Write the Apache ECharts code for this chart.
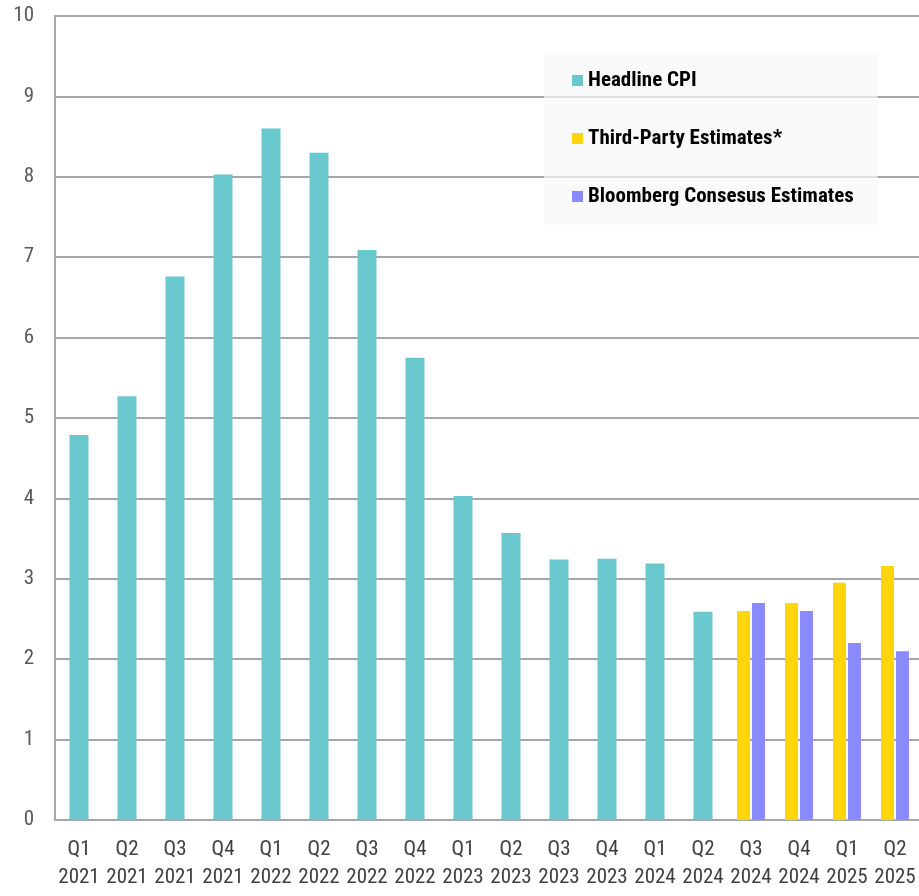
<!DOCTYPE html>
<html>
<head>
<meta charset="utf-8">
<title>Headline CPI and Estimates</title>
<script src="https://cdn.jsdelivr.net/npm/echarts@6/dist/echarts.min.js"></script>
<style>
  html, body { margin: 0; padding: 0; background: #ffffff; }
  #chart { width: 919px; height: 896px; }
</style>
</head>
<body>
<div id="chart"></div>
<script>
// Quarter labels (two lines: quarter, year)
const quarters = [
  'Q1\n2021', 'Q2\n2021', 'Q3\n2021', 'Q4\n2021',
  'Q1\n2022', 'Q2\n2022', 'Q3\n2022', 'Q4\n2022',
  'Q1\n2023', 'Q2\n2023', 'Q3\n2023', 'Q4\n2023',
  'Q1\n2024', 'Q2\n2024', 'Q3\n2024', 'Q4\n2024',
  'Q1\n2025', 'Q2\n2025'
];

// Reported year-over-year headline CPI (%)
const headlineCPI = [
  4.79, 5.27, 6.76, 8.03,
  8.60, 8.30, 7.09, 5.75,
  4.03, 3.57, 3.24, 3.25,
  3.19, 2.59, null, null,
  null, null
];

// Forecasts for the coming quarters
const thirdPartyEstimates = [
  null, null, null, null, null, null, null, null, null,
  null, null, null, null, null, 2.60, 2.70, 2.95, 3.16
];
const bloombergEstimates = [
  null, null, null, null, null, null, null, null, null,
  null, null, null, null, null, 2.70, 2.60, 2.20, 2.10
];

const yTicks = { min: 0, max: 10, step: 1 };

const narrow = "'Roboto Condensed', 'Liberation Sans', sans-serif";
const gridGray = '#A6A6A6';

const chart = echarts.init(document.getElementById('chart'), null, { renderer: 'canvas' });

chart.setOption({
  animation: false,
  backgroundColor: '#ffffff',
  grid: { left: 55, right: -2, top: 16, bottom: 76, containLabel: false },
  legend: {
    orient: 'vertical',
    left: 544,
    top: 53,
    padding: [17, 24, 18, 28],
    itemGap: 37,
    itemWidth: 11,
    itemHeight: 11,
    icon: 'rect',
    backgroundColor: 'rgba(248,248,248,0.7)',
    textStyle: {
      fontFamily: narrow,
      fontWeight: 'bold',
      fontSize: 21,
      color: '#000000',
      padding: [0, 0, 0, 0]
    },
    data: ['Headline CPI', 'Third-Party Estimates*', 'Bloomberg Consesus Estimates']
  },
  xAxis: [
    {
      type: 'category',
      data: quarters,
      axisLine: { show: true, lineStyle: { color: gridGray, width: 2 } },
      axisTick: { show: false },
      axisLabel: {
        interval: 0,
        margin: 16,
        fontFamily: narrow,
        fontSize: 21,
        lineHeight: 28,
        color: '#404040'
      }
    },
    {
      type: 'category',
      data: quarters,
      position: 'bottom',
      show: false
    }
  ],
  yAxis: {
    type: 'value',
    min: yTicks.min,
    max: yTicks.max,
    interval: yTicks.step,
    axisLine: { show: true, lineStyle: { color: gridGray, width: 2 } },
    axisTick: { show: false },
    splitLine: { show: true, lineStyle: { color: gridGray, width: 2 } },
    axisLabel: {
      margin: 21,
      fontFamily: narrow,
      fontSize: 21,
      color: '#595959'
    }
  },
  series: [
    {
      name: 'Headline CPI',
      type: 'bar',
      xAxisIndex: 0,
      data: headlineCPI,
      barWidth: 19,
      itemStyle: { color: '#68C8CE' }
    },
    {
      name: 'Third-Party Estimates*',
      type: 'bar',
      xAxisIndex: 1,
      data: thirdPartyEstimates,
      barWidth: 13,
      barGap: '15%',
      itemStyle: { color: '#FFD60C' }
    },
    {
      name: 'Bloomberg Consesus Estimates',
      type: 'bar',
      xAxisIndex: 1,
      data: bloombergEstimates,
      barWidth: 13,
      barGap: '15%',
      itemStyle: { color: '#8A8AFF' }
    }
  ]
});
</script>
</body>
</html>
